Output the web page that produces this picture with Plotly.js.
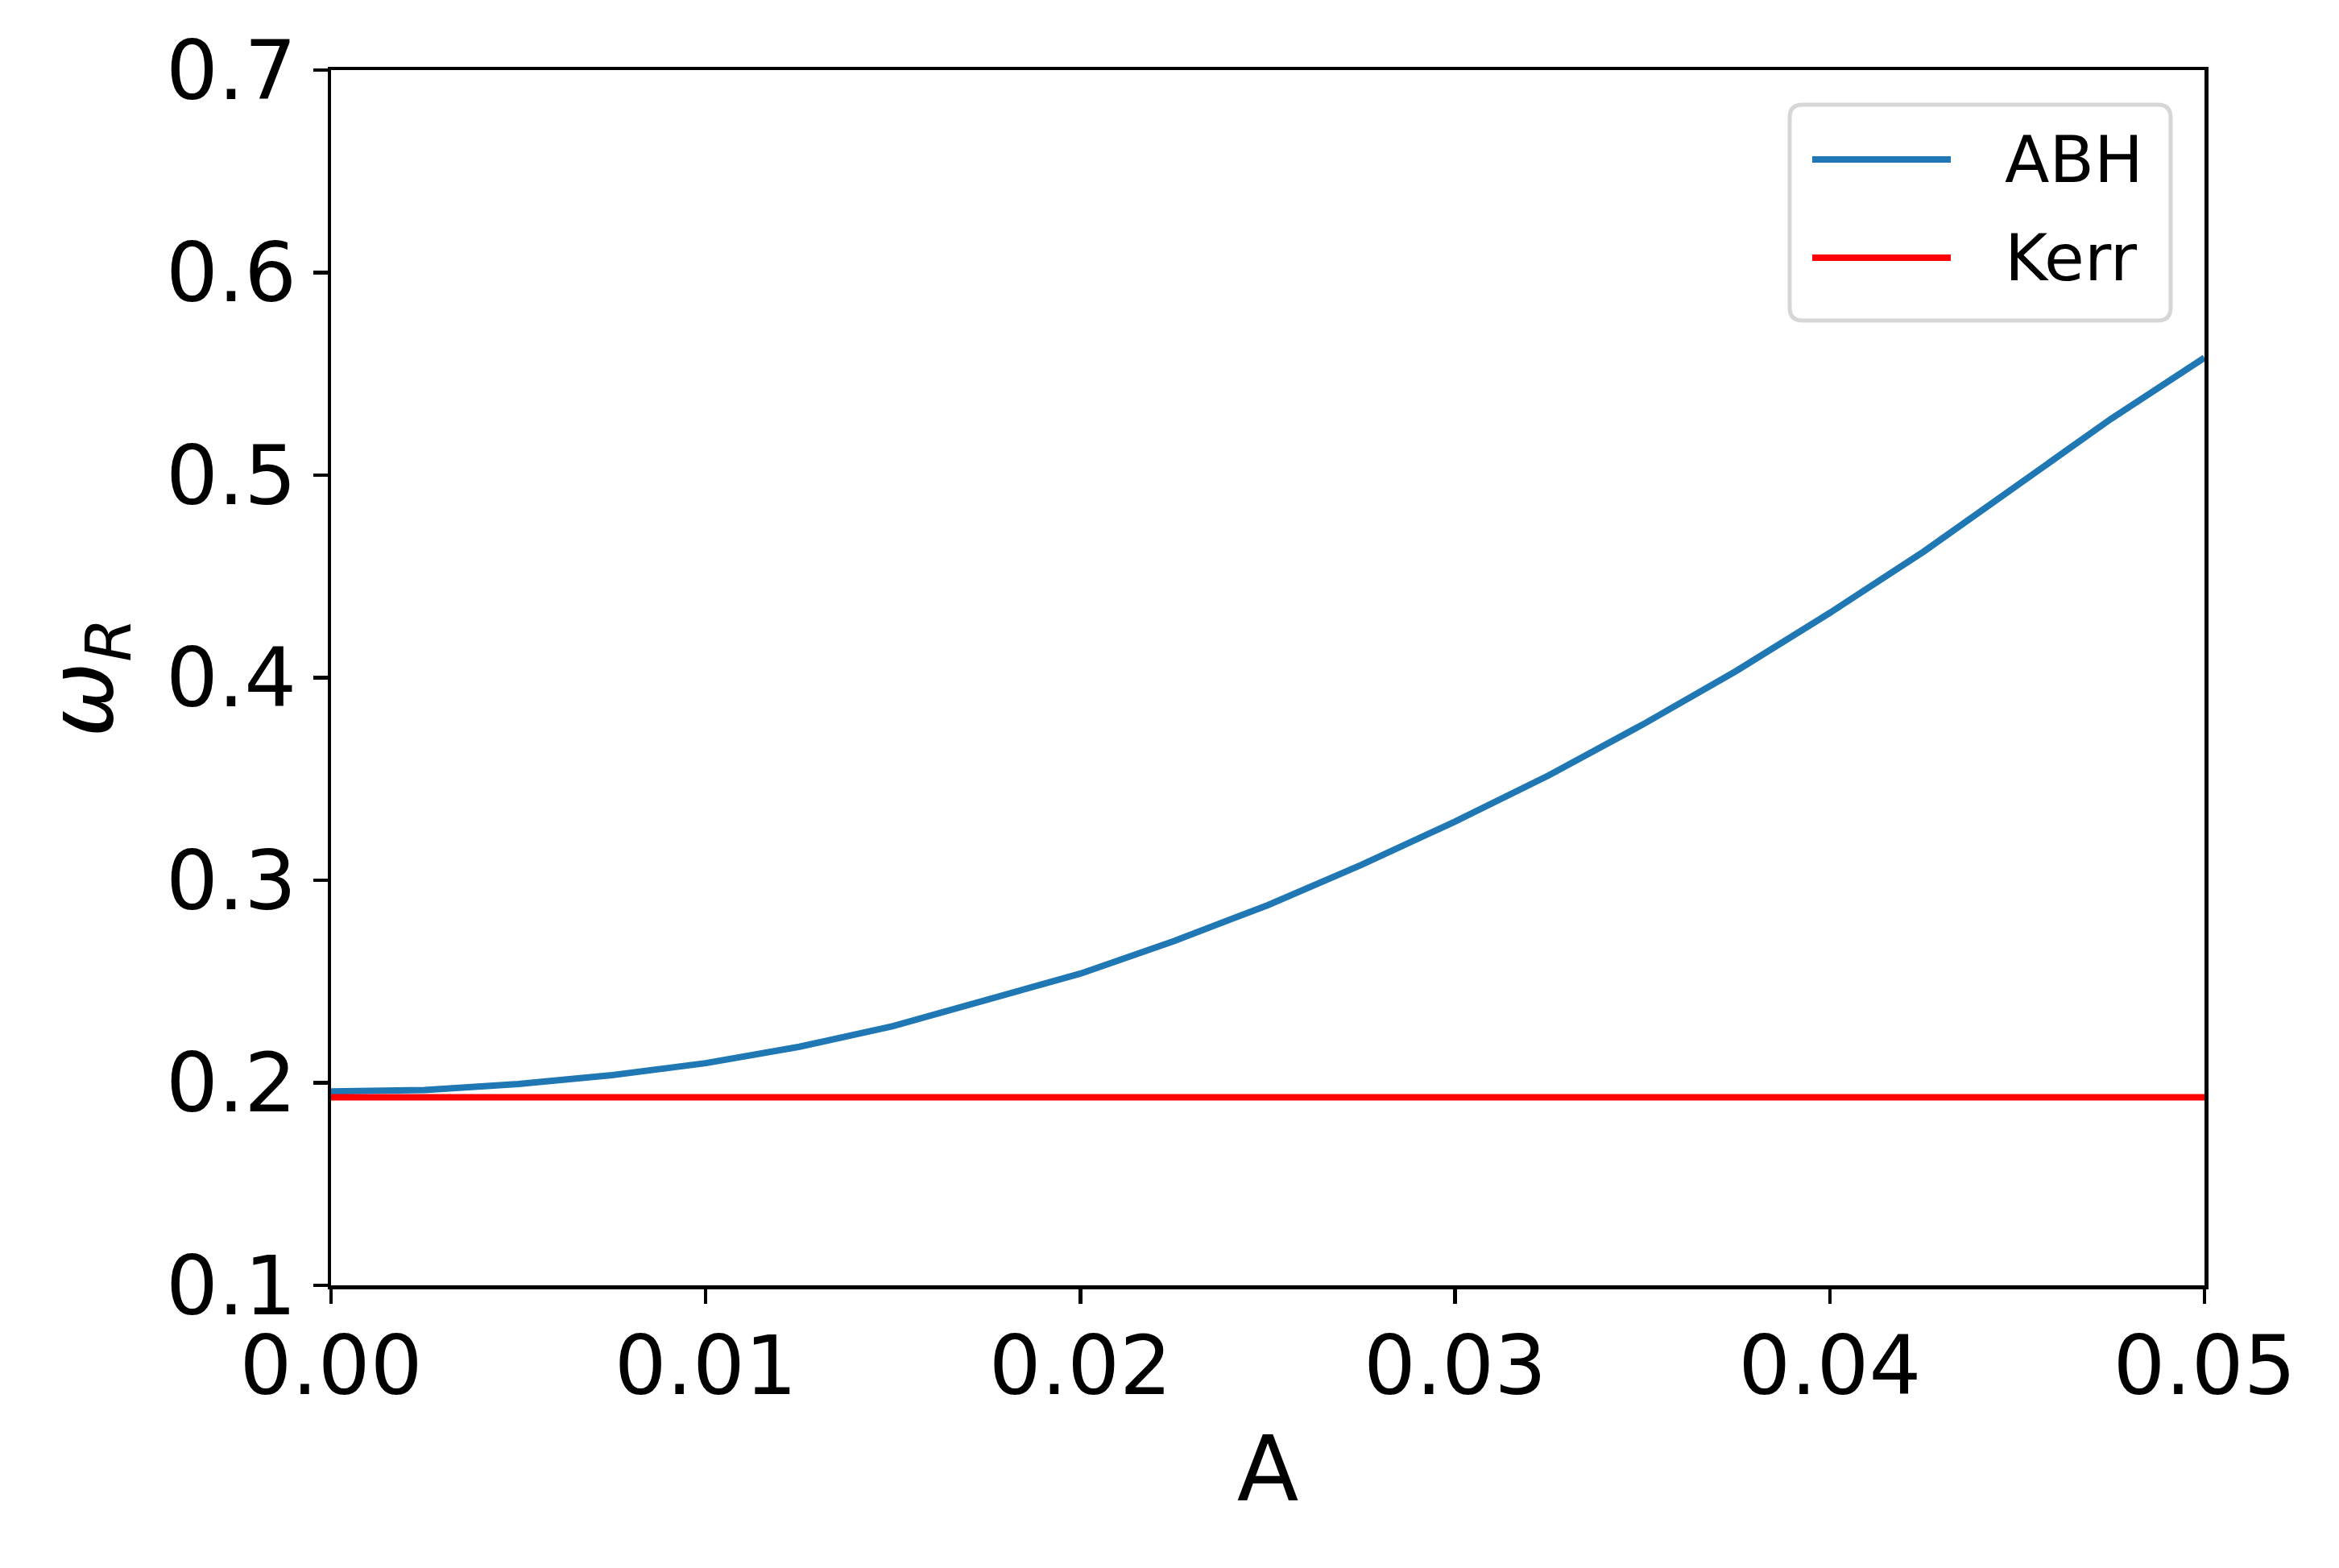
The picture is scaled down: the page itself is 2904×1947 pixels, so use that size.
<!DOCTYPE html>
<html>
<head>
<meta charset="utf-8">
<script src="https://cdn.plot.ly/plotly-3.0.1.min.js"></script>
<style>html,body{margin:0;padding:0;background:#fff;}#chart{width:2904px;height:1947px;}</style>
</head>
<body>
<div id="chart"></div>
<script>
// Data
const A_values = [0, 0.0025, 0.005, 0.0075, 0.01, 0.0125, 0.015, 0.0175, 0.02, 0.0225, 0.025,
                  0.0275, 0.03, 0.0325, 0.035, 0.0375, 0.04, 0.0425, 0.045, 0.0475, 0.05];
const omegaR_ABH = [0.1957, 0.1964, 0.1994, 0.2038, 0.2097, 0.2178, 0.2280, 0.2406, 0.2539, 0.2700, 0.2877,
                    0.3076, 0.3290, 0.3518, 0.3768, 0.4033, 0.4320, 0.4622, 0.4946, 0.5277, 0.5580];
const kerrA = [0, 0.05];
const omegaR_Kerr = [0.1928, 0.1928];
const seriesNames = ["ABH", "Kerr"];
const seriesColors = ["#1f77b4", "#ff0000"];
const xTicks = [0, 0.01, 0.02, 0.03, 0.04, 0.05];
const yTicks = [0.1, 0.2, 0.3, 0.4, 0.5, 0.6, 0.7];

const FONT = "DejaVu Sans, sans-serif";

const traces = [
  {x: A_values, y: omegaR_ABH, type: "scatter", mode: "lines", name: seriesNames[0],
   line: {color: seriesColors[0], width: 8}, showlegend: false},
  {x: kerrA, y: omegaR_Kerr, type: "scatter", mode: "lines", name: seriesNames[1],
   line: {color: seriesColors[1], width: 8}, showlegend: false}
];

// manual matplotlib-style legend (pixel offsets from the top-right corner of the plot area)
function roundRect(x0, y0, x1, y1, r) {
  return `M${x0+r},${y0} L${x1-r},${y0} Q${x1},${y0} ${x1},${y0-r} L${x1},${y1+r} Q${x1},${y1} ${x1-r},${y1} ` +
         `L${x0+r},${y1} Q${x0},${y1} ${x0},${y1+r} L${x0},${y0-r} Q${x0},${y0} ${x0+r},${y0} Z`;
}
const shapes = [
  {type: "path", xref: "paper", yref: "paper", xsizemode: "pixel", ysizemode: "pixel",
   xanchor: 1, yanchor: 1, path: roundRect(-515, -43, -42, -311, 16),
   line: {color: "#d6d6d6", width: 5}, fillcolor: "rgba(255,255,255,0.8)", layer: "above"}
];
const legendY = [-111, -233];
const annotations = [];
seriesNames.forEach((n, i) => {
  shapes.push({type: "line", xref: "paper", yref: "paper", xsizemode: "pixel", ysizemode: "pixel",
    xanchor: 1, yanchor: 1, x0: -487, x1: -315, y0: legendY[i], y1: legendY[i],
    line: {color: seriesColors[i], width: 8}, layer: "above"});
  annotations.push({xref: "paper", yref: "paper", x: 0.8925, y: (1509 + legendY[i]) / 1509,
    xanchor: "left", yanchor: "middle", text: n, showarrow: false,
    font: {family: FONT, size: 81, color: "#000"}});
});

const axisCommon = {
  showline: true, linecolor: "#000", linewidth: 4.5, mirror: true,
  ticks: "outside", ticklen: 18, tickwidth: 4.5, tickcolor: "#000",
  showgrid: false, zeroline: false,
  tickfont: {family: FONT, size: 102, color: "#000"}
};

const layout = {
  width: 2904, height: 1947,
  margin: {l: 411, r: 167, t: 87, b: 351, pad: 0},
  paper_bgcolor: "#fff", plot_bgcolor: "#fff",
  font: {family: FONT, color: "#000"},
  showlegend: false,
  xaxis: Object.assign({}, axisCommon, {
    range: [0, 0.05], tickvals: xTicks, tickformat: ".2f", ticklabelstandoff: -10,
    title: {text: "A", font: {family: FONT, size: 112, color: "#000"}, standoff: 32}
  }),
  yaxis: Object.assign({}, axisCommon, {
    range: [0.1, 0.7], tickvals: yTicks, tickformat: ".1f",
    title: {text: "<i>ω</i><sub><i>R</i></sub>", font: {family: FONT, size: 112, color: "#000"}, standoff: 30}
  }),
  shapes: shapes,
  annotations: annotations
};

Plotly.newPlot("chart", traces, layout, {staticPlot: true, displayModeBar: false});
</script>
</body>
</html>
